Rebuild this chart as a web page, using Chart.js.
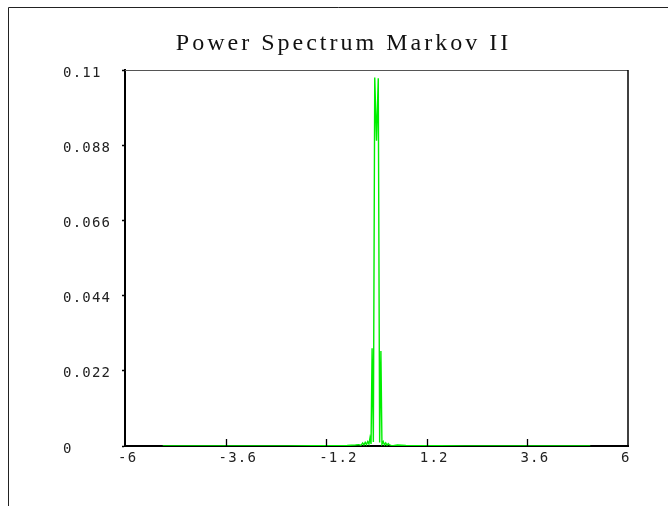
<!DOCTYPE html>
<html>
<head>
<meta charset="utf-8">
<script src="https://cdn.jsdelivr.net/npm/chart.js@4"></script>
<style>
  html, body { margin: 0; padding: 0; background: #fff; }
  #wrap { width: 668px; height: 506px; position: relative; }
  canvas { display: block; }
</style>
</head>
<body>
<div id="wrap"><canvas id="c" width="668" height="506"></canvas></div>
<script>
// Power spectrum of the second Markov process
const titleText = 'Power Spectrum Markov II';

const freq = [
  -5.1, -4.5, -3.9, -3.3, -2.7, -2.1, -1.5, -1.0, -0.7, -0.5,
  -0.42, -0.37, -0.33, -0.30, -0.27, -0.24, -0.21, -0.18, -0.155, -0.13,
  -0.105, -0.075, -0.042, 0, 0.042, 0.075, 0.105, 0.13, 0.16, 0.19,
  0.22, 0.25, 0.28, 0.31, 0.35, 0.40, 0.5, 0.7, 1.0, 1.5,
  2.1, 2.7, 3.3, 3.9, 4.5, 5.1
];
const power = [
  0.00002, 0.00002, 0.00003, 0.00003, 0.00004, 0.00005, 0.00007, 0.0001, 0.00015, 0.0003,
  0.0004, 0.0002, 0.0009, 0.0003, 0.0011, 0.0004, 0.0013, 0.0006, 0.0024, 0.0006,
  0.0286, 0.0012, 0.1078, 0.0893, 0.1076, 0.0010, 0.0278, 0.0005, 0.0013, 0.0003,
  0.0009, 0.0002, 0.0007, 0.0003, 0.0002, 0.0001, 0.0003, 0.00015, 0.0001, 0.00007,
  0.00005, 0.00004, 0.00003, 0.00003, 0.00002, 0.00002
];

const xTickValues = [-6, -3.6, -1.2, 1.2, 3.6, 6];
const xTickLabels = ['-6', '-3.6', '-1.2', '1.2', '3.6', '6'];
const yTickValues = [0, 0.022, 0.044, 0.066, 0.088, 0.11];
const yTickLabels = ['0', '0.022', '0.044', '0.066', '0.088', '0.11'];

const tickFont = { family: 'DejaVu Sans Mono', size: 14 };
const tickSpacing = '1.2px';

const decor = {
  id: 'decor',
  beforeUpdate(chart) { chart.ctx.letterSpacing = tickSpacing; },
  beforeDraw(chart) {
    const ctx = chart.ctx;
    ctx.save();
    ctx.fillStyle = '#fff';
    ctx.fillRect(0, 0, chart.width, chart.height);
    // outer frame
    ctx.strokeStyle = '#222';
    ctx.lineWidth = 1;
    ctx.beginPath();
    ctx.moveTo(8.5, chart.height);
    ctx.lineTo(8.5, 7.5);
    ctx.lineTo(chart.width, 7.5);
    ctx.stroke();
    ctx.restore();
    ctx.letterSpacing = tickSpacing;
  },
  afterDraw(chart) {
    const ctx = chart.ctx;
    const a = chart.chartArea;
    const xs = chart.scales.x;
    ctx.save();
    // top and right edges of the plot box
    ctx.strokeStyle = '#555';
    ctx.lineWidth = 1;
    ctx.beginPath();
    ctx.moveTo(a.left, a.top + 0.5);
    ctx.lineTo(a.right, a.top + 0.5);
    ctx.stroke();
    ctx.strokeStyle = '#000';
    ctx.lineWidth = 1.5;
    ctx.beginPath();
    ctx.moveTo(a.right, a.top);
    ctx.lineTo(a.right, a.bottom);
    ctx.stroke();
    // inward tick marks on the frequency axis
    ctx.lineWidth = 1.3;
    xs.ticks.forEach(t => {
      if (t.value === xs.min || t.value === xs.max) return;
      const px = Math.round(xs.getPixelForValue(t.value)) + 0.5;
      ctx.beginPath();
      ctx.moveTo(px, a.bottom);
      ctx.lineTo(px, a.bottom - 7);
      ctx.stroke();
    });
    // title
    ctx.letterSpacing = '3px';
    ctx.font = '24px "Liberation Serif"';
    ctx.fillStyle = '#111';
    ctx.textAlign = 'left';
    ctx.textBaseline = 'alphabetic';
    const w = ctx.measureText(titleText).width;
    ctx.fillText(titleText, 342 - w / 2 + 1.5, 50);
    ctx.restore();
  }
};

new Chart(document.getElementById('c'), {
  type: 'line',
  data: {
    datasets: [{
      data: freq.map((f, i) => ({ x: f, y: power[i] })),
      borderColor: '#00ee00',
      borderWidth: 1.4,
      pointRadius: 0,
      tension: 0,
      fill: false
    }]
  },
  options: {
    responsive: false,
    animation: false,
    events: [],
    layout: { padding: { left: 63, top: 70, right: 40, bottom: 0 } },
    plugins: { legend: { display: false }, tooltip: { enabled: false }, title: { display: false } },
    scales: {
      x: {
        type: 'linear',
        min: -6,
        max: 6,
        afterBuildTicks: s => { s.ticks = xTickValues.map(v => ({ value: v })); },
        afterFit: s => { s.height = 60; },
        ticks: {
          callback: v => xTickLabels[xTickValues.indexOf(v)],
          align: 'start',
          labelOffset: -7,
          padding: 4,
          maxRotation: 0,
          autoSkip: false,
          font: tickFont,
          color: '#222'
        },
        grid: { drawOnChartArea: false, drawTicks: false },
        border: { color: '#000', width: 2 }
      },
      y: {
        type: 'linear',
        min: 0,
        max: 0.11,
        afterBuildTicks: s => { s.ticks = yTickValues.map(v => ({ value: v })); },
        afterFit: s => { s.width = 62; },
        ticks: {
          callback: v => yTickLabels[yTickValues.indexOf(v)],
          crossAlign: 'far',
          labelOffset: 3,
          padding: 0,
          autoSkip: false,
          font: tickFont,
          color: '#222'
        },
        grid: { drawOnChartArea: false, drawTicks: true, tickLength: 3, tickColor: '#000', tickWidth: 1.5 },
        border: { color: '#000', width: 2 }
      }
    }
  },
  plugins: [decor]
});
</script>
</body>
</html>
